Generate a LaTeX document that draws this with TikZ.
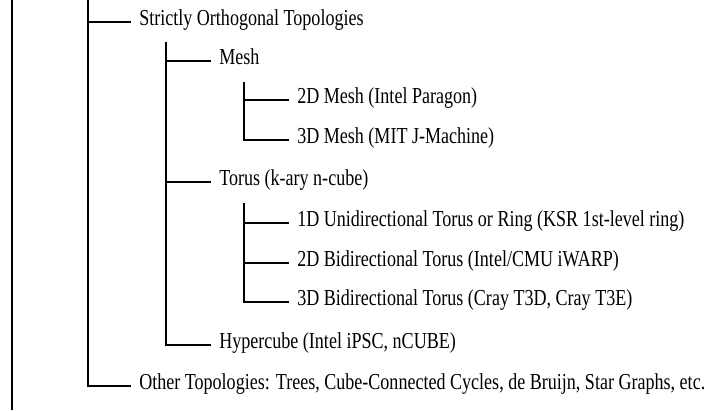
\documentclass[tikz,border=0pt]{standalone}
\usepackage{fontspec}
\setmainfont[FakeStretch=0.79]{Liberation Serif}
\usetikzlibrary{positioning}

\begin{document}
\begin{tikzpicture}[
    x=0.03cm, y=-0.03cm, line width=1.1pt,
    item/.style={anchor=west, inner xsep=6.5pt, inner ysep=0pt, text height=0.66em, text depth=0pt,
        font=\fontsize{19.5}{22}\selectfont},
    branch/.style={draw, black}
]
    \useasboundingbox (0,0) rectangle (710,410);

    % level 1
    \node[item] (strict) at (131,22) {Strictly Orthogonal Topologies};
    \node[item] (other)  at (131,386) {Other Topologies: Trees, Cube-Connected Cycles, de Bruijn, Star Graphs, etc.};

    % level 2
    \node[item] (mesh)  at (211,61)  {Mesh};
    \node[item] (torus) at (211,182) {Torus (k-ary n-cube)};
    \node[item] (hyper) at (211,345) {Hypercube (Intel iPSC, nCUBE)};

    % level 3
    \node[item] (m2d) at (289,100) {2D Mesh (Intel Paragon)};
    \node[item] (m3d) at (289,140) {3D Mesh (MIT J-Machine)};
    \node[item] (t1d) at (289,223) {1D Unidirectional Torus or Ring (KSR 1st-level ring)};
    \node[item] (t2d) at (289,263) {2D Bidirectional Torus (Intel/CMU iWARP)};
    \node[item] (t3d) at (289,302) {3D Bidirectional Torus (Cray T3D, Cray T3E)};

    % spines
    \coordinate (top0) at (12,0);
    \coordinate (bot0) at (12,410);
    \coordinate (top1) at (88,0);
    \coordinate (top2) at (166,42);
    \coordinate (topm) at (244,82);
    \coordinate (topt) at (244,203);

    \draw[branch] (top0) -- (bot0);
    \draw[branch] (top1) |- (other.west);
    \draw[branch] (top1) |- (strict.west);
    \draw[branch] (top2) |- (hyper.west);
    \draw[branch] (top2) |- (mesh.west);
    \draw[branch] (top2) |- (torus.west);
    \draw[branch] (topm) |- (m3d.west);
    \draw[branch] (topm) |- (m2d.west);
    \draw[branch] (topt) |- (t3d.west);
    \draw[branch] (topt) |- (t1d.west);
    \draw[branch] (topt) |- (t2d.west);
\end{tikzpicture}
\end{document}
